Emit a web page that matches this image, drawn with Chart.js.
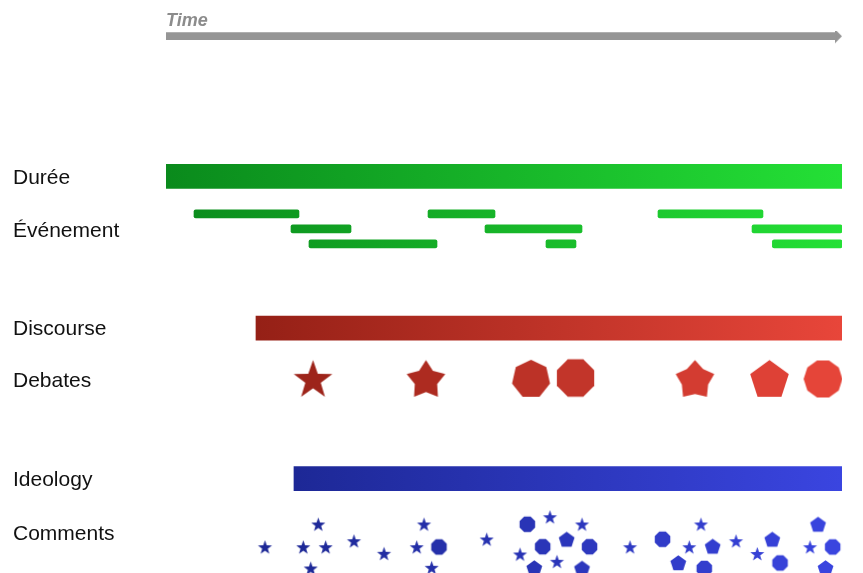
<!DOCTYPE html>
<html>
<head>
<meta charset="utf-8">
<script src="https://cdn.jsdelivr.net/npm/chart.js@4.4.1/dist/chart.umd.min.js"></script>
<style>
  html, body { margin: 0; padding: 0; background: #fff; }
  #wrap { width: 863px; height: 573px; }
</style>
</head>
<body>
<div id="wrap"><canvas id="timeline"></canvas></div>
<script>
// time runs 0..100 along the track, rows are lane positions (1 row = 10px)
const laneLabels = ['Durée', 'Événement', 'Discourse', 'Debates', 'Ideology', 'Comments'];
const laneRows = [14.75, 20.0, 29.85, 35.05, 44.9, 50.3];

const arrowRow = 0.52;
const arrowEnd = 100;

const spanNames = ['Durée', 'Discourse', 'Ideology'];
const spanStart = [0, 13.31, 18.93];
const spanEnd = [100, 100, 100];
const spanRows = [14.54, 29.72, 44.77];

const eventStart = [4.14, 38.76, 72.78, 18.49, 47.19, 86.69, 21.15, 56.21, 89.7];
const eventEnd = [19.67, 48.67, 88.31, 27.37, 61.54, 100, 40.09, 60.65, 100];
const eventRows = [18.28, 18.28, 18.28, 19.78, 19.78, 19.78, 21.28, 21.28, 21.28];

const debateTimes = [21.75, 38.46, 54.0, 60.58, 78.25, 89.27, 97.19];
const debateRows = [34.93, 34.93, 34.83, 34.7, 34.93, 34.93, 34.8];
const debateKinds = ['star', 'starWide', 'heptagon', 'octagon', 'starFat', 'pentagon', 'decagon'];

const commentTimes = [14.64, 22.53, 20.31, 23.62, 21.41, 27.81, 32.25, 38.17, 37.09, 40.38,
    39.30, 47.44, 53.45, 56.80, 55.72, 52.37, 54.48, 57.84, 61.54, 59.27,
    62.65, 61.54, 68.64, 73.45, 79.14, 77.41, 80.87, 75.78, 79.63, 84.32,
    89.69, 87.47, 90.83, 96.45, 95.27, 98.62, 97.56];
const commentRows = [51.67, 49.4, 51.67, 51.67, 53.8, 51.07, 52.33, 49.4, 51.67, 51.6,
    53.73, 50.9, 49.33, 48.67, 51.57, 52.4, 53.75, 53.13, 49.4, 50.9,
    51.57, 53.8, 51.67, 50.83, 49.4, 51.67, 51.6, 53.25, 53.75, 51.07,
    50.9, 52.35, 53.2, 49.4, 51.67, 51.6, 53.75];
const commentKinds = ['star', 'star', 'star', 'star', 'star', 'star', 'star', 'star', 'star', 'octagon',
    'star', 'star', 'octagon', 'star', 'octagon', 'star', 'pentagon', 'star', 'star', 'pentagon',
    'octagon', 'pentagon', 'star', 'octagon', 'star', 'star', 'pentagon', 'pentagon', 'octagon', 'star',
    'pentagon', 'star', 'octagon', 'pentagon', 'star', 'octagon', 'pentagon'];

const FONT = "'Liberation Sans', Arial, sans-serif";
const trackColors = [['#0a8a1c', '#24e036'], ['#952016', '#e8463a'], ['#1d2896', '#3a45e0']];

const shapeDefs = {
    star: { points: 5, inner: 0.40 },
    starWide: { points: 5, inner: 0.58 },
    starFat: { points: 5, inner: 0.68 },
    pentagon: { sides: 5, start: -90 },
    heptagon: { sides: 7, start: -90 },
    octagon: { sides: 8, start: -67.5 },
    decagon: { sides: 10, start: -72 }
};
const debateSize = { star: 20.3, starWide: 20.3, starFat: 20.3, heptagon: 19.5, octagon: 20.2, pentagon: 20.3, decagon: 19.4 };
const commentSize = { star: 7.4, pentagon: 8.3, octagon: 8.4 };

function hexToRgb(h) {
    const n = parseInt(h.slice(1), 16);
    return [(n >> 16) & 255, (n >> 8) & 255, n & 255];
}

function mix(a, b, f) {
    f = Math.max(0, Math.min(1, f));
    const ca = hexToRgb(a), cb = hexToRgb(b);
    const c = ca.map((v, i) => Math.round(v + (cb[i] - v) * f));
    return `rgb(${c[0]},${c[1]},${c[2]})`;
}

const shapeCache = {};
function shapeCanvas(kind, r, color) {
    const key = kind + '|' + r + '|' + color;
    if (shapeCache[key]) return shapeCache[key];
    const size = Math.ceil(r * 2) + 4;
    const cv = document.createElement('canvas');
    cv.width = size;
    cv.height = size;
    const g = cv.getContext('2d');
    const c = size / 2;
    const def = shapeDefs[kind];
    g.beginPath();
    if (def.points) {
        for (let i = 0; i < def.points * 2; i++) {
            const rr = i % 2 === 0 ? r : r * def.inner;
            const a = (-90 + i * 180 / def.points) * Math.PI / 180;
            const px = c + rr * Math.cos(a), py = c + rr * Math.sin(a);
            i === 0 ? g.moveTo(px, py) : g.lineTo(px, py);
        }
    } else {
        for (let i = 0; i < def.sides; i++) {
            const a = (def.start + i * 360 / def.sides) * Math.PI / 180;
            const px = c + r * Math.cos(a), py = c + r * Math.sin(a);
            i === 0 ? g.moveTo(px, py) : g.lineTo(px, py);
        }
    }
    g.closePath();
    g.fillStyle = color;
    g.fill();
    shapeCache[key] = cv;
    return cv;
}

// arrow tip sits on the point, the triangle fills the left half of the image
function arrowHead() {
    const cv = document.createElement('canvas');
    cv.width = 16;
    cv.height = 15;
    const g = cv.getContext('2d');
    g.beginPath();
    g.moveTo(1, 0.5);
    g.lineTo(8, 7.5);
    g.lineTo(1, 14.5);
    g.closePath();
    g.fillStyle = '#959595';
    g.fill();
    return cv;
}

function trackGradient(chart, from, to, colors) {
    if (!chart.chartArea) return colors[0];
    const xs = chart.scales.x;
    const g = chart.ctx.createLinearGradient(xs.getPixelForValue(from), 0, xs.getPixelForValue(to), 0);
    g.addColorStop(0, colors[0]);
    g.addColorStop(1, colors[1]);
    return g;
}

function trackColorAt(t, track) {
    const f = (t - spanStart[track]) / (spanEnd[track] - spanStart[track]);
    return mix(trackColors[track][0], trackColors[track][1], f);
}

const ctx = document.getElementById('timeline').getContext('2d');
new Chart(ctx, {
    type: 'scatter',
    data: {
        datasets: [
            {
                type: 'bar', indexAxis: 'y', grouped: false,
                data: [{ x: [0, arrowEnd - 0.9], y: arrowRow }],
                backgroundColor: '#959595', barThickness: 7, borderWidth: 0, borderSkipped: false
            },
            {
                data: [{ x: arrowEnd, y: arrowRow }],
                pointStyle: arrowHead(), pointRadius: 7, pointBorderWidth: 0
            },
            {
                type: 'bar', indexAxis: 'y', grouped: false,
                data: spanNames.map((n, i) => ({ x: [spanStart[i], spanEnd[i]], y: spanRows[i] })),
                backgroundColor: c => trackGradient(c.chart, spanStart[c.dataIndex], spanEnd[c.dataIndex], trackColors[c.dataIndex]),
                barThickness: 24, borderWidth: 0, borderSkipped: false
            },
            {
                type: 'bar', indexAxis: 'y', grouped: false,
                data: eventStart.map((s, i) => ({ x: [s, eventEnd[i]], y: eventRows[i] })),
                backgroundColor: c => trackGradient(c.chart, spanStart[0], spanEnd[0], trackColors[0]),
                barThickness: 8, borderWidth: 0, borderRadius: 2, borderSkipped: false
            },
            {
                data: debateTimes.map((t, i) => ({ x: t, y: debateRows[i] })),
                pointStyle: c => shapeCanvas(debateKinds[c.dataIndex], debateSize[debateKinds[c.dataIndex]], trackColorAt(debateTimes[c.dataIndex], 1)),
                pointRadius: 18, pointBorderWidth: 0
            },
            {
                data: commentTimes.map((t, i) => ({ x: t, y: commentRows[i] })),
                pointStyle: c => shapeCanvas(commentKinds[c.dataIndex], commentSize[commentKinds[c.dataIndex]], trackColorAt(commentTimes[c.dataIndex], 2)),
                pointRadius: 7, pointBorderWidth: 0
            }
        ]
    },
    options: {
        responsive: true,
        maintainAspectRatio: false,
        animation: false,
        events: [],
        layout: { padding: { left: 13, right: 21, top: 0, bottom: 0 }, autoPadding: false },
        plugins: { legend: { display: false }, tooltip: { enabled: false } },
        scales: {
            x: {
                type: 'linear', position: 'top', min: 0, max: 100, offset: false,
                beginAtZero: false,
                grid: { display: false, drawTicks: false, offset: false },
                border: { display: false },
                ticks: { display: false },
                title: {
                    display: true, text: 'Time', align: 'start', color: '#8c8c8c',
                    font: { family: FONT, size: 18, weight: 'bold', style: 'italic', lineHeight: 1.25 },
                    padding: { top: 10, bottom: -1.5 }
                }
            },
            y: {
                type: 'linear', min: 0, max: 54.2, reverse: true, offset: false,
                grid: { display: false, drawTicks: false, offset: false },
                border: { display: false },
                afterBuildTicks: s => { s.ticks = laneRows.map(v => ({ value: v })); },
                afterFit: s => { s.width = 153; s.paddingTop = 0; s.paddingBottom = 0; },
                ticks: {
                    autoSkip: false, crossAlign: 'far', padding: 0, color: '#111',
                    font: { family: FONT, size: 21 },
                    callback: v => laneLabels[laneRows.indexOf(v)]
                }
            }
        }
    }
});
</script>
</body>
</html>
